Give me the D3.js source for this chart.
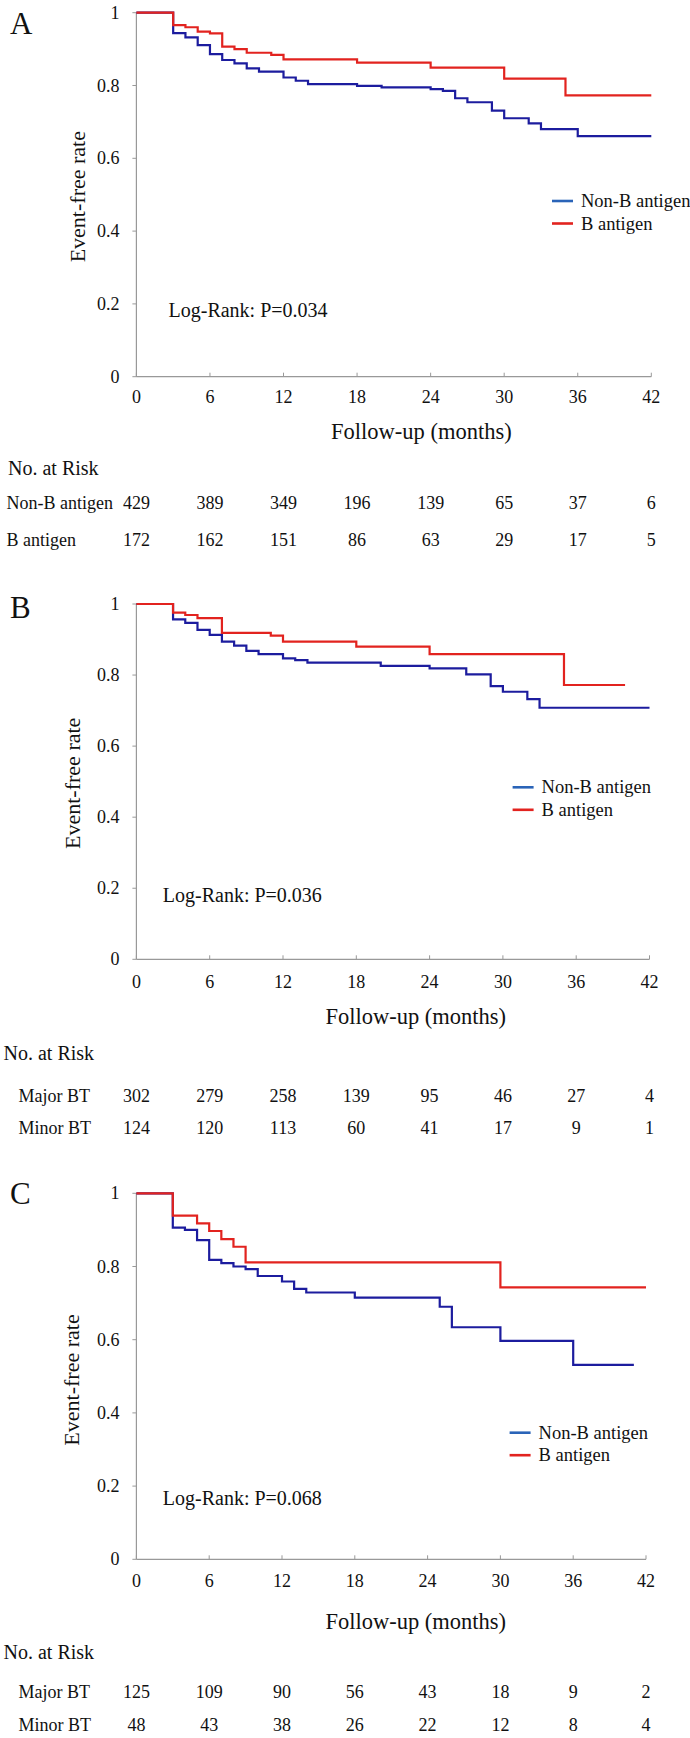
<!DOCTYPE html>
<html>
<head>
<meta charset="utf-8">
<script src="https://cdnjs.cloudflare.com/ajax/libs/d3/7.8.5/d3.min.js"></script>
<style>
  body { margin: 0; background: #fff; }
</style>
</head>
<body>
<div id="chart"></div>
<script>
// tick values shared by all three panels
var monthTicks = [0, 6, 12, 18, 24, 30, 36, 42];
var rateTicks = [0, 0.2, 0.4, 0.6, 0.8, 1];
var seriesNames = ["Non-B antigen", "B antigen"];

// Kaplan-Meier steps: [month, event-free rate]
var nonBA = [[0,1],[3,0.944],[4,0.932],[5,0.911],[6,0.886],[7,0.870],[8,0.861],[9,0.847],[10,0.838],[12,0.822],[13,0.813],[14,0.804],[18,0.799],[20,0.795],[24,0.790],[25,0.785],[26,0.765],[27,0.754],[29,0.731],[30,0.710],[32,0.696],[33,0.680],[36,0.661],[42,0.661]];
var bA = [[0,1],[3,0.966],[4,0.960],[5,0.948],[6,0.943],[7,0.907],[8,0.900],[9,0.890],[11,0.884],[12,0.872],[18,0.863],[24,0.849],[30,0.819],[35,0.773],[42,0.773]];

var nonBB = [[0,1],[3,0.957],[4,0.947],[5,0.927],[6,0.913],[7,0.894],[8,0.883],[9,0.868],[10,0.859],[12,0.847],[13,0.842],[14,0.835],[20,0.826],[24,0.819],[27,0.802],[29,0.769],[30,0.753],[32,0.732],[33,0.708],[42,0.708]];
var bB = [[0,1],[3,0.976],[4,0.969],[5,0.960],[7,0.919],[11,0.911],[12,0.894],[18,0.880],[24,0.859],[35,0.772],[40,0.772]];

var nonBC = [[0,1],[3,0.906],[4,0.900],[5,0.872],[6,0.818],[7,0.809],[8,0.800],[9,0.793],[10,0.774],[12,0.759],[13,0.739],[14,0.729],[18,0.715],[25,0.690],[26,0.634],[30,0.597],[36,0.531],[41,0.531]];
var bC = [[0,1],[3,0.939],[5,0.918],[6,0.897],[7,0.875],[8,0.854],[9,0.811],[30,0.743],[42,0.743]];

// numbers at risk, one value per month tick
var riskGroupsA = ["Non-B antigen", "B antigen"];
var riskA = [[429, 389, 349, 196, 139, 65, 37, 6], [172, 162, 151, 86, 63, 29, 17, 5]];
var riskGroupsBC = ["Major BT", "Minor BT"];
var riskB = [[302, 279, 258, 139, 95, 46, 27, 4], [124, 120, 113, 60, 41, 17, 9, 1]];
var riskC = [[125, 109, 90, 56, 43, 18, 9, 2], [48, 43, 38, 26, 22, 12, 8, 4]];

var pValues = ["0.034", "0.036", "0.068"];

var curveColors = ["#1c1c9e", "#e2231f"];
var legendColors = ["#2a64b8", "#e2231f"];
var serif = "'Liberation Serif', Tinos, 'Times New Roman', 'DejaVu Serif', serif";

var svg = d3.select("#chart").append("svg")
    .attr("width", 690)
    .attr("height", 1738)
    .attr("font-family", serif)
    .attr("fill", "#111");

var panels = [
  {letter: "A", letterY: 23, top: 12.7, bottom: 376.7, right: 651.3, curves: [nonBA, bA],
   legend: [552, 201], logRank: [168.5, 310], yLabel: [77, 196.7], tickY: 396.7,
   title: [421.4, 431.7], header: [8, 468.3], rows: [503.3, 540], rowX: 6.6,
   groups: riskGroupsA, risk: riskA, p: pValues[0]},
  {letter: "B", letterY: 607, top: 604, bottom: 959.3, right: 649.5, curves: [nonBB, bB],
   legend: [512.6, 787.3], logRank: [162.8, 895], yLabel: [72.6, 783.3], tickY: 981.7,
   title: [415.8, 1016.7], header: [3.5, 1053.3], rows: [1096, 1128.3], rowX: 18.5,
   groups: riskGroupsBC, risk: riskB, p: pValues[1]},
  {letter: "C", letterY: 1193, top: 1193.3, bottom: 1559.3, right: 646, curves: [nonBC, bC],
   legend: [509.6, 1432.7], logRank: [162.8, 1498.3], yLabel: [71.7, 1380], tickY: 1580.7,
   title: [415.8, 1621.7], header: [3.5, 1651.7], rows: [1691.7, 1725], rowX: 18.5,
   groups: riskGroupsBC, risk: riskC, p: pValues[2]}
];

panels.forEach(drawPanel);

function drawPanel(p) {
    var left = 136.4;
    var g = svg.append("g");

    var x = d3.scaleLinear().domain([0, 42]).range([left, p.right]);
    var y = d3.scaleLinear().domain([0, 1]).range([p.bottom, p.top]);

    // panel letter
    g.append("text")
        .attr("x", 10).attr("y", p.letterY)
        .attr("dominant-baseline", "central")
        .style("font-size", "31px")
        .text(p.letter);

    // axes lines
    g.append("line")
        .attr("x1", x(0)).attr("x2", x(0))
        .attr("y1", y(1)).attr("y2", y(0))
        .attr("stroke", "#999").attr("stroke-width", 1.2);
    g.append("line")
        .attr("x1", x(0)).attr("x2", x(42))
        .attr("y1", y(0)).attr("y2", y(0))
        .attr("stroke", "#999").attr("stroke-width", 1.2);

    // y ticks + labels
    g.selectAll(".yt").data(rateTicks).enter().append("line")
        .attr("x1", x(0) - 4).attr("x2", x(0))
        .attr("y1", d => y(d)).attr("y2", d => y(d))
        .attr("stroke", "#999");
    g.selectAll(".yl").data(rateTicks).enter().append("text")
        .attr("x", x(0) - 17).attr("y", d => y(d))
        .attr("text-anchor", "end")
        .attr("dominant-baseline", "central")
        .style("font-size", "18px")
        .text(d => d3.format("")(d));

    // x ticks + labels
    g.selectAll(".xt").data(monthTicks).enter().append("line")
        .attr("x1", d => x(d)).attr("x2", d => x(d))
        .attr("y1", y(0) - 4).attr("y2", y(0))
        .attr("stroke", "#999");
    g.selectAll(".xl").data(monthTicks).enter().append("text")
        .attr("x", d => x(d)).attr("y", p.tickY)
        .attr("text-anchor", "middle")
        .attr("dominant-baseline", "central")
        .style("font-size", "18px")
        .text(d => d);

    // survival curves
    var line = d3.line()
        .x(d => x(d[0]))
        .y(d => y(d[1]))
        .curve(d3.curveStepAfter);
    p.curves.forEach(function(c, i) {
        g.append("path")
            .attr("d", line(c))
            .attr("fill", "none")
            .attr("stroke", curveColors[i])
            .attr("stroke-width", 2.2);
    });

    // legend
    seriesNames.forEach(function(name, i) {
        var ly = p.legend[1] + i * 22.5;
        g.append("line")
            .attr("x1", p.legend[0]).attr("x2", p.legend[0] + 21)
            .attr("y1", ly).attr("y2", ly)
            .attr("stroke", legendColors[i]).attr("stroke-width", 2.6);
        g.append("text")
            .attr("x", p.legend[0] + 29).attr("y", ly)
            .attr("dominant-baseline", "central")
            .style("font-size", "18.5px")
            .text(name);
    });

    // log-rank note
    g.append("text")
        .attr("x", p.logRank[0]).attr("y", p.logRank[1])
        .attr("dominant-baseline", "central")
        .style("font-size", "20px")
        .text("Log-Rank: P=" + p.p);

    // y axis title
    g.append("text")
        .attr("transform", "translate(" + p.yLabel[0] + "," + p.yLabel[1] + ") rotate(-90)")
        .attr("text-anchor", "middle")
        .attr("dominant-baseline", "central")
        .style("font-size", "22px")
        .text("Event-free rate");

    // x axis title
    g.append("text")
        .attr("x", p.title[0]).attr("y", p.title[1])
        .attr("text-anchor", "middle")
        .attr("dominant-baseline", "central")
        .style("font-size", "22.5px")
        .text("Follow-up (months)");

    // numbers at risk
    g.append("text")
        .attr("x", p.header[0]).attr("y", p.header[1])
        .attr("dominant-baseline", "central")
        .style("font-size", "20px")
        .text("No. at Risk");

    p.risk.forEach(function(row, r) {
        g.append("text")
            .attr("x", p.rowX).attr("y", p.rows[r])
            .attr("dominant-baseline", "central")
            .style("font-size", "18px")
            .text(p.groups[r]);
        g.selectAll(".n" + r).data(row).enter().append("text")
            .attr("x", (d, i) => x(monthTicks[i]))
            .attr("y", p.rows[r])
            .attr("text-anchor", "middle")
            .attr("dominant-baseline", "central")
            .style("font-size", "18px")
            .text(d => d);
    });
}
</script>
</body>
</html>
